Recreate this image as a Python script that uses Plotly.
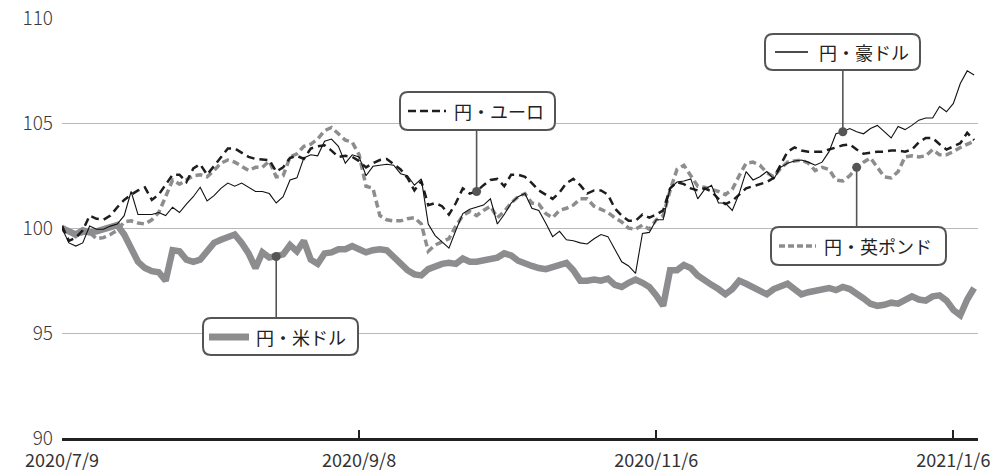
import plotly.graph_objects as go

# ---------------- data (index = business day from 2020/7/9) ----------------
tick_index = [0, 43, 86, 129]
tick_labels = ["2020/7/9", "2020/9/8", "2020/11/6", "2021/1/6"]
y_ticks = [90, 95, 100, 105, 110]

aud = [100.0, 99.3, 99.15, 99.3, 100.1, 99.95, 99.95, 100.1, 100.2, 100.6,
       101.75, 100.65, 100.65, 100.65, 100.75, 100.6, 101.0, 100.75, 101.15, 101.5,
       101.95, 101.3, 101.55, 101.9, 102.15, 102.0, 102.15, 101.95, 101.75, 101.75,
       101.65, 101.2, 101.5, 102.3, 102.4, 103.35, 103.5, 103.45, 104.15, 104.25,
       103.9, 103.1, 103.5, 103.4, 102.5, 102.95, 103.0, 103.05, 103.0, 102.6,
       102.5, 102.05, 102.35, 100.2, 99.65, 99.35, 99.05, 99.9, 100.7, 100.9,
       101.0, 101.1, 101.4, 100.2, 100.65, 101.2, 101.5, 101.65, 100.95, 100.85,
       100.25, 99.6, 99.85, 99.45, 99.4, 99.3, 99.25, 99.5, 99.7, 99.6,
       99.0, 98.4, 98.2, 97.85, 99.75, 99.8, 100.4, 100.4, 101.9, 102.2,
       102.25, 102.35, 101.4, 101.85, 102.05, 101.2, 101.2, 100.85, 101.65, 102.7,
       102.3, 102.45, 102.7, 102.35, 102.9, 103.1, 103.2, 103.25, 103.15, 103.0,
       103.15, 103.65, 104.5, 104.6, 104.75, 104.6, 104.5, 104.75, 104.9, 104.6,
       104.3, 104.85, 104.7, 104.9, 105.15, 105.25, 105.25, 105.8, 105.55, 105.95,
       106.9, 107.5, 107.3]

eur = [100.1, 99.4, 99.55, 99.9, 100.6, 100.45, 100.4, 100.6, 101.0, 101.35,
       101.6, 101.8, 101.95, 101.35, 101.6, 102.05, 102.55, 102.55, 102.2, 102.85,
       103.05, 102.55, 102.95, 103.35, 103.8, 103.8, 103.6, 103.4, 103.3, 103.27,
       103.25, 102.7, 102.9, 103.35, 103.45, 103.3, 103.8, 103.9, 103.95, 103.7,
       103.4, 103.45, 103.4, 103.2, 102.9, 103.1, 103.25, 103.3, 103.05, 102.8,
       102.4, 101.8, 102.25, 101.1, 101.2, 101.05, 100.65, 101.2, 101.9, 101.65,
       101.75, 102.05, 102.3, 102.35, 102.0, 102.55, 102.55, 102.45, 102.15, 101.8,
       101.6, 101.4, 101.7, 102.15, 102.35, 102.05, 101.65, 101.8, 101.8, 101.6,
       100.95, 100.6, 100.35, 100.35, 100.65, 100.5, 100.65, 100.85, 101.9, 102.2,
       102.1, 101.9, 101.8, 101.9, 101.75, 101.4, 101.15, 101.3, 101.6, 101.9,
       102.0, 102.1, 102.2, 102.4, 103.0, 103.65, 103.85, 103.7, 103.65, 103.65,
       103.65, 103.75, 103.85, 103.95, 104.0, 103.75, 103.55, 103.6, 103.65, 103.65,
       103.7, 103.7, 103.65, 103.75, 104.1, 104.3, 104.3, 104.0, 103.75, 103.9,
       104.05, 104.55, 104.2]

gbp = [100.1, 99.85, 99.6, 99.75, 99.8, 99.5, 99.55, 99.7, 99.9, 100.3,
       100.35, 100.25, 100.2, 100.4, 100.75, 101.5, 102.3, 102.1, 102.3, 102.5,
       102.55, 102.45, 102.75, 103.1, 103.25, 103.15, 102.95, 102.75, 102.9, 102.9,
       103.2, 102.45, 102.5, 103.4, 103.55, 103.9, 104.0, 104.25, 104.65, 104.8,
       104.5, 104.2, 104.1, 103.5, 102.0, 101.9, 100.6, 100.4, 100.35, 100.35,
       100.45, 100.5, 100.2, 98.9, 99.2, 99.35, 99.5, 100.1, 100.6, 100.8,
       100.6, 100.85, 101.05, 100.5, 100.8, 101.2, 101.5, 101.65, 101.2, 101.15,
       100.7, 100.5, 100.85, 100.95, 101.1, 101.4, 101.4, 101.05, 100.9, 100.75,
       100.5, 100.3, 100.0, 99.95, 100.15, 99.95, 100.4, 100.6, 101.8, 102.8,
       103.0, 102.5, 102.0, 101.95, 101.85, 101.75, 101.6, 101.85, 102.5, 103.1,
       103.15, 103.0, 102.65, 102.45, 102.85, 103.15, 103.2, 103.25, 103.1, 102.75,
       102.9, 102.8, 102.3, 102.25, 102.5, 102.9, 103.15, 103.35, 102.9, 102.45,
       102.4, 102.7, 103.4, 103.45, 103.4, 103.45, 103.75, 103.5, 103.5, 103.65,
       103.85, 104.0, 104.15]

usd = [100.0, 99.85, 99.7, 99.9, 99.8, 99.85, 99.95, 100.0, 100.15, 99.7,
       99.0, 98.4, 98.1, 97.95, 97.9, 97.5, 98.95, 98.9, 98.5, 98.4,
       98.5, 98.95, 99.3, 99.45, 99.55, 99.7, 99.3, 98.8, 98.1, 98.85,
       98.6, 98.65, 98.75, 99.2, 98.9, 99.4, 98.5, 98.3, 98.8, 98.85,
       99.0, 99.0, 99.15, 99.0, 98.85, 98.95, 99.0, 98.95, 98.6, 98.3,
       98.0, 97.8, 97.75, 98.05, 98.2, 98.3, 98.35, 98.3, 98.55, 98.4,
       98.4, 98.45, 98.5, 98.6, 98.8, 98.7, 98.45, 98.3, 98.2, 98.1,
       98.05, 98.15, 98.25, 98.35, 98.0, 97.5, 97.5, 97.55, 97.5, 97.6,
       97.3, 97.2, 97.4, 97.55, 97.4, 97.2, 96.8, 96.3, 98.0, 98.0,
       98.25, 98.1, 97.75, 97.5, 97.3, 97.1, 96.85, 97.1, 97.5, 97.35,
       97.2, 97.0, 96.85, 97.1, 97.25, 97.35, 97.1, 96.85, 96.95, 97.0,
       97.1, 97.15, 97.05, 97.2, 97.1, 96.9, 96.65, 96.4, 96.3, 96.35,
       96.45, 96.4, 96.6, 96.75, 96.6, 96.55, 96.75, 96.8, 96.55, 96.1,
       95.85, 96.6, 97.15]

names = ["円・米ドル", "円・英ポンド", "円・ユーロ", "円・豪ドル"]
callout_idx = {"aud": 113, "eur": 60, "gbp": 115, "usd": 31}

# ---------------- styles ----------------
GRAY = "#8d8d90"
DARK = "#555555"
FONT = "Noto Sans CJK JP"

L, R, T, B = 62, 978, 18, 438
W, H = 1005, 472
Y_TOP = 110.02  # tiny headroom so the 110 gridline/label is kept


def xp(px):
    return (px - L) / (R - L)


def yp(py):
    return (B - py) / (B - T)


def py2val(py):
    return Y_TOP - (py - T) * (Y_TOP - 90) / (B - T)


def rbox(x0, y0, x1, y1, r=8):
    rx = r / (R - L)
    ry = r / (B - T)
    a, b, c, d = xp(x0), yp(y0), xp(x1), yp(y1)
    return (f"M {a+rx},{b} L {c-rx},{b} Q {c},{b} {c},{b-ry} "
            f"L {c},{d+ry} Q {c},{d} {c-rx},{d} L {a+rx},{d} Q {a},{d} {a},{d+ry} "
            f"L {a},{b-ry} Q {a},{b} {a+rx},{b} Z")


x = list(range(len(aud)))

fig = go.Figure()
fig.add_trace(go.Scatter(x=x, y=usd, mode="lines", name=names[0],
                         line=dict(color=GRAY, width=6.5)))
fig.add_trace(go.Scatter(x=x, y=gbp, mode="lines", name=names[1],
                         line=dict(color=GRAY, width=3.5, dash="7px,4px")))
fig.add_trace(go.Scatter(x=x, y=eur, mode="lines", name=names[2],
                         line=dict(color="#1e1e1e", width=2.5, dash="8px,5px")))
fig.add_trace(go.Scatter(x=x, y=aud, mode="lines", name=names[3],
                         line=dict(color="#111111", width=1.1)))

# callout markers and leaders
series = {"aud": aud, "eur": eur, "gbp": gbp, "usd": usd}
box_edge_py = {"aud": 70, "eur": 130, "gbp": 227, "usd": 318}
shapes = []
mx, my = [], []
for k, i in callout_idx.items():
    v = series[k][i]
    mx.append(i)
    my.append(v)
    shapes.append(dict(type="line", xref="x", yref="y", x0=i, x1=i, y0=v,
                       y1=py2val(box_edge_py[k]), line=dict(color=DARK, width=1.6),
                       layer="above"))

fig.add_trace(go.Scatter(x=mx, y=my, mode="markers",
                         marker=dict(color=DARK, size=9), hoverinfo="skip"))

boxes = {
    "aud": (765, 34, 920, 70),
    "eur": (400, 92, 555, 130),
    "gbp": (771, 227, 946, 265),
    "usd": (203, 318, 358, 355),
}
for k, (x0, y0, x1, y1) in boxes.items():
    shapes.append(dict(type="path", xref="paper", yref="paper", path=rbox(x0, y0, x1, y1),
                       fillcolor="white", line=dict(color=DARK, width=2), layer="above"))

# legend samples inside boxes
samples = [
    (775, 808, 52, dict(color="#111111", width=1.3)),
    (408, 446, 111, dict(color="#1e1e1e", width=2.5, dash="8px,4px")),
    (779, 816, 246, dict(color=GRAY, width=3.5, dash="6px,3px")),
    (209, 249, 337, dict(color=GRAY, width=7)),
]
for x0, x1, yy, ln in samples:
    shapes.append(dict(type="line", xref="paper", yref="paper", x0=xp(x0), x1=xp(x1),
                       y0=yp(yy), y1=yp(yy), line=ln, layer="above"))

annotations = []
texts = [(817, 52, names[3]), (452, 111, names[2]), (822, 246, names[1]), (254, 337, names[0])]
for tx, ty, t in texts:
    annotations.append(dict(x=xp(tx), y=yp(ty), xref="paper", yref="paper", text=t,
                            showarrow=False, xanchor="left", yanchor="middle",
                            font=dict(family=FONT, size=18, color="#222222")))

fig.update_layout(
    width=W, height=H,
    margin=dict(l=L, r=W - R, t=T, b=H - B, pad=0),
    paper_bgcolor="white", plot_bgcolor="white",
    showlegend=False,
    shapes=shapes,
    annotations=annotations,
    xaxis=dict(range=[0, (R - L) / 6.91], tickmode="array", tickvals=tick_index,
               ticktext=tick_labels, showgrid=False, zeroline=False,
               showline=True, linecolor="#222222", linewidth=2.5,
               ticks="inside", ticklen=8, tickwidth=2, tickcolor="#222222",
               tickfont=dict(family=FONT, size=18, color="#333333"),
               ticklabelstandoff=5, automargin=False, fixedrange=True),
    yaxis=dict(range=[90, Y_TOP], tickmode="array", tickvals=y_ticks,
               showgrid=True, gridcolor="#b8b8b8", gridwidth=1, zeroline=False,
               showline=False, ticks="",
               tickfont=dict(family=FONT, size=19, color="#3a3a3a", weight=300),
               ticklabelstandoff=8, automargin=False, fixedrange=True),
)

fig.write_html("out.html", config={"displayModeBar": False})

# remove the browser's default page margin so the figure sits at the window origin
with open("out.html", "r", encoding="utf-8") as f:
    html = f.read()
html = html.replace("<head>", "<head><style>html,body{margin:0;padding:0;overflow:hidden;}</style>", 1)
with open("out.html", "w", encoding="utf-8") as f:
    f.write(html)
